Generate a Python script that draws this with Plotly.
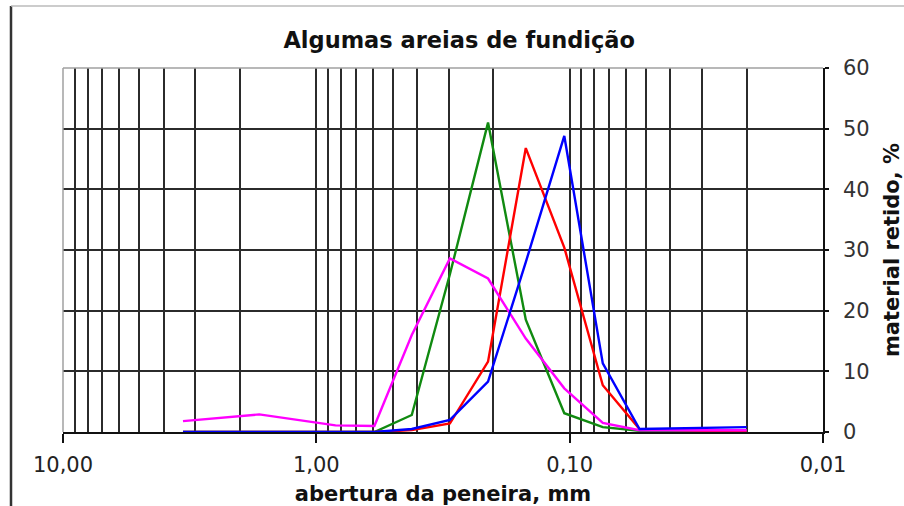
import plotly.graph_objects as go

# Sieve openings (mm); last point is the pan plotted at 0.02 mm
sizes = [3.36, 1.68, 0.84, 0.59, 0.42, 0.297, 0.21, 0.149, 0.105, 0.074, 0.053, 0.02]
green = [0, 0, 0, 0, 2.8, 26.0, 51.0, 18.5, 3.1, 0.8, 0.2, 0]
red = [0, 0, 0, 0, 0.3, 1.4, 11.6, 46.8, 30.4, 7.7, 0.5, 0]
magenta = [1.8, 2.9, 1.1, 1.0, 16.0, 28.6, 25.3, 15.4, 7.2, 1.5, 0.3, 0.3]
blue = [0, 0, 0, 0, 0.5, 2.0, 8.3, 28.0, 48.8, 11.3, 0.5, 0.8]

x_tickvals = [10, 1, 0.1, 0.01]
x_ticktext = ["10,00", "1,00", "0,10", "0,01"]
y_tickvals = [0, 10, 20, 30, 40, 50, 60]

title = "Algumas areias de fundição"
x_title = "abertura da peneira, mm"
y_title = "material retido, %"

FONT = "DejaVu Sans"
GRID = "#2b2b2b"

fig = go.Figure()
for vals, col in [(green, "#108a10"), (red, "#ff0000"), (magenta, "#ff00ff"), (blue, "#0000ff")]:
    fig.add_trace(go.Scatter(x=sizes, y=vals, mode="lines",
                             line=dict(color=col, width=2.4), showlegend=False))

fig.update_layout(
    width=904, height=506,
    margin=dict(l=63, r=81, t=68, b=74, autoexpand=False),
    paper_bgcolor="white", plot_bgcolor="white",
    title=dict(text="<b>" + title + "</b>", x=0.508, xref="container", xanchor="center",
               y=1 - 40 / 506, yref="container", yanchor="middle",
               font=dict(family=FONT, size=22.5, color="#111")),
    font=dict(family=FONT, size=20, color="#222"),
)

fig.update_xaxes(
    type="log", range=[1, -2],
    tickvals=x_tickvals, ticktext=x_ticktext,
    showgrid=True, gridcolor=GRID, gridwidth=1.8,
    minor=dict(dtick="D1", showgrid=True, gridcolor=GRID, gridwidth=1.8, ticks=""),
    showline=True, linecolor="#111", linewidth=1.5,
    ticks="outside", ticklen=9, tickwidth=1.5, tickcolor="#111",
    tickfont=dict(family=FONT, size=21, color="#222"),
    ticklabelstandoff=4,
    title=dict(text="<b>" + x_title + "</b>", font=dict(family=FONT, size=21, color="#111"), standoff=11),
    zeroline=False,
)
fig.update_yaxes(
    side="right", range=[0, 60], tickvals=y_tickvals,
    showgrid=True, gridcolor=GRID, gridwidth=1.8,
    showline=True, linecolor="#111", linewidth=1.5,
    ticks="outside", ticklen=4, tickwidth=1.5, tickcolor="#111",
    tickfont=dict(family=FONT, size=21, color="#333"),
    ticklabelstandoff=10,
    title=dict(text="<b>" + y_title + "</b>", font=dict(family=FONT, size=21, color="#111"), standoff=16),
    zeroline=False,
)

# plot-area grey border (top and left)
fig.add_shape(type="line", xref="paper", yref="paper", x0=0, x1=1, y0=1, y1=1,
              line=dict(color="#a0a0a0", width=1.5), layer="above")
fig.add_shape(type="line", xref="paper", yref="paper", x0=0, x1=0, y0=0, y1=1,
              line=dict(color="#a0a0a0", width=1.5), layer="above")
# chart-area border
fig.add_shape(type="line", xref="paper", yref="paper", x0=-52 / 760, x1=-52 / 760,
              y0=426 / 364, y1=-80 / 364, line=dict(color="#333", width=2.5))
fig.add_shape(type="line", xref="paper", yref="paper", x0=-52 / 760, x1=841 / 760,
              y0=426 / 364, y1=426 / 364, line=dict(color="#bbbbbb", width=1.5))

fig.write_html("out.html", config={"displayModeBar": False},
               post_script="document.body.style.margin='0';")
